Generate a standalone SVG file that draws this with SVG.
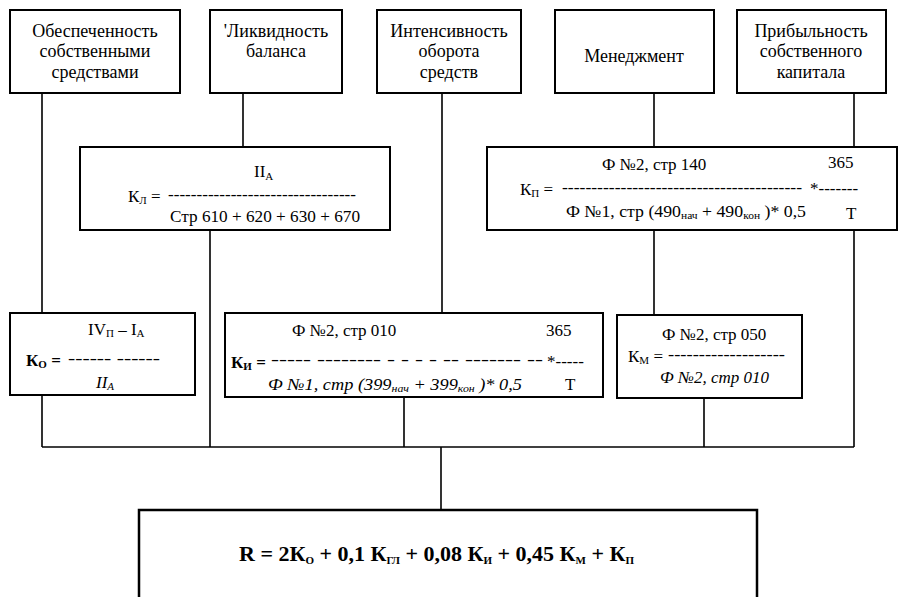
<svg xmlns="http://www.w3.org/2000/svg" width="899" height="597" viewBox="0 0 899 597">
<style>
.box{fill:#fff;stroke:#000;stroke-width:2}
.bigbox{fill:#fff;stroke:#000;stroke-width:2.5}
.t{font-family:"Liberation Serif","DejaVu Serif",serif;font-size:18px;fill:#000}
.f{font-family:"Liberation Serif","DejaVu Serif",serif;font-size:17px;fill:#000}
.c{text-anchor:middle}
.i{font-style:italic}
.s{font-size:11px}
.b{font-weight:bold}
.formula{font-family:"Liberation Serif","DejaVu Serif",serif;font-size:22px;font-weight:bold;fill:#000}
.ln{stroke:#000;stroke-width:1.6;fill:none}
</style>
<rect width="899" height="597" fill="#fff"/>
<g id="connectors">
<path class="ln" d="M42 93V313M42 395V447"/>
<path class="ln" d="M243 93V147M210 230V447"/>
<path class="ln" d="M442 93V313M404 397V447"/>
<path class="ln" d="M654 93V147M654 230V315M704 398V447"/>
<path class="ln" d="M854 93V147M854 230V447"/>
<path class="ln" d="M42 447H854"/>
<path class="ln" d="M441 447V510" stroke-width="2.5"/>
</g>
<g id="n1">
<rect class="box" x="10" y="10" width="170" height="83"/>
<text class="t c" x="95" y="37">Обеспеченность</text>
<text class="t c" x="95" y="57">собственными</text>
<text class="t c" x="95" y="78">средствами</text>
</g>
<g id="n2">
<rect class="box" x="210" y="10" width="132" height="83"/>
<text class="t c" x="276" y="37">'Ликвидность</text>
<text class="t c" x="276" y="57">баланса</text>
</g>
<g id="n3">
<rect class="box" x="377" y="10" width="144" height="83"/>
<text class="t c" x="449" y="37">Интенсивность</text>
<text class="t c" x="449" y="57">оборота</text>
<text class="t c" x="449" y="78">средств</text>
</g>
<g id="n4">
<rect class="box" x="555" y="10" width="159" height="83"/>
<text class="t c" x="634" y="62">Менеджмент</text>
</g>
<g id="n5">
<rect class="box" x="737" y="10" width="149" height="83"/>
<text class="t c" x="811" y="37">Прибыльность</text>
<text class="t c" x="811" y="57">собственного</text>
<text class="t c" x="811" y="78">капитала</text>
</g>
<g id="kl">
<rect class="box" x="80" y="147" width="310" height="83"/>
<text class="f" x="254" y="177">II<tspan class="s" dy="3">A</tspan></text>
<text class="f" x="128" y="202">К<tspan class="s" dy="2">Л</tspan><tspan dy="-2"> =</tspan></text>
<text class="f" x="168" y="200" textLength="188" lengthAdjust="spacingAndGlyphs">---------------------------------</text>
<text class="f" x="170" y="222" textLength="190" lengthAdjust="spacingAndGlyphs">Стр 610 + 620 + 630 + 670</text>
</g>
<g id="kp">
<rect class="box" x="487" y="147" width="410" height="83"/>
<text class="f" x="602" y="170">Ф №2, стр 140</text>
<text class="f" x="828" y="168">365</text>
<text class="f" x="520" y="195">К<tspan class="s" dy="2">П</tspan><tspan dy="-2"> =</tspan></text>
<text class="f" x="562" y="193" textLength="240" lengthAdjust="spacingAndGlyphs">-----------------------------------------</text>
<text class="f" x="810" y="194" font-size="16">*-------</text>
<text class="f" x="566" y="217" textLength="240" lengthAdjust="spacingAndGlyphs">Ф №1, стр (490<tspan class="s" dy="2">нач</tspan><tspan dy="-2"> + 490</tspan><tspan class="s" dy="2">кон</tspan><tspan dy="-2"> )* 0,5</tspan></text>
<text class="f" x="846" y="219">Т</text>
</g>
<g id="ko">
<rect class="box" x="10" y="313" width="185" height="82"/>
<text class="f" x="88" y="335">IV<tspan class="s" dy="2">П</tspan><tspan dy="-2"> – I</tspan><tspan class="s" dy="2">A</tspan></text>
<text class="f b" x="26" y="366">К<tspan class="s" dy="2">О</tspan><tspan dy="-2"> =</tspan></text>
<text class="f" x="68" y="364" textLength="92" lengthAdjust="spacingAndGlyphs">------ ------</text>
<text class="f i" x="96" y="388">II<tspan class="s" dy="2">A</tspan></text>
</g>
<g id="ki">
<rect class="box" x="225" y="313" width="378" height="84"/>
<text class="f" x="292" y="336">Ф №2, стр 010</text>
<text class="f" x="546" y="336">365</text>
<text class="f b" x="231" y="368">К<tspan class="s" dy="2">И</tspan><tspan dy="-2"> =</tspan></text>
<text class="f" x="271" y="365" textLength="272" lengthAdjust="spacingAndGlyphs">----- --------  -  -  -  - -- -------  --</text>
<text class="f" x="547" y="367">*-----</text>
<text class="f i" x="268" y="390" textLength="254" lengthAdjust="spacingAndGlyphs">Ф №1, стр (399<tspan class="s" dy="2">нач</tspan><tspan dy="-2"> + 399</tspan><tspan class="s" dy="2">кон</tspan><tspan dy="-2"> )* 0,5</tspan></text>
<text class="f" x="565" y="390">Т</text>
</g>
<g id="km">
<rect class="box" x="617" y="315" width="185" height="83"/>
<text class="f" x="662" y="340">Ф №2, стр 050</text>
<text class="f" x="628" y="362">К<tspan class="s" dy="2">М</tspan><tspan dy="-2"> =</tspan></text>
<text class="f" x="668" y="360" textLength="117" lengthAdjust="spacingAndGlyphs">-------------------</text>
<text class="f i" x="660" y="383">Ф №2, стр 010</text>
</g>
<g id="r">
<rect class="bigbox" x="139" y="510" width="618" height="100"/>
<text class="formula" x="239" y="561">R = 2К<tspan class="s" dy="3">О</tspan><tspan dy="-3"> + 0,1 К</tspan><tspan class="s" dy="3">ГЛ</tspan><tspan dy="-3"> + 0,08 К</tspan><tspan class="s" dy="3">И</tspan><tspan dy="-3"> + 0,45 К</tspan><tspan class="s" dy="3">М</tspan><tspan dy="-3"> + К</tspan><tspan class="s" dy="3">П</tspan></text>
</g>
</svg>
